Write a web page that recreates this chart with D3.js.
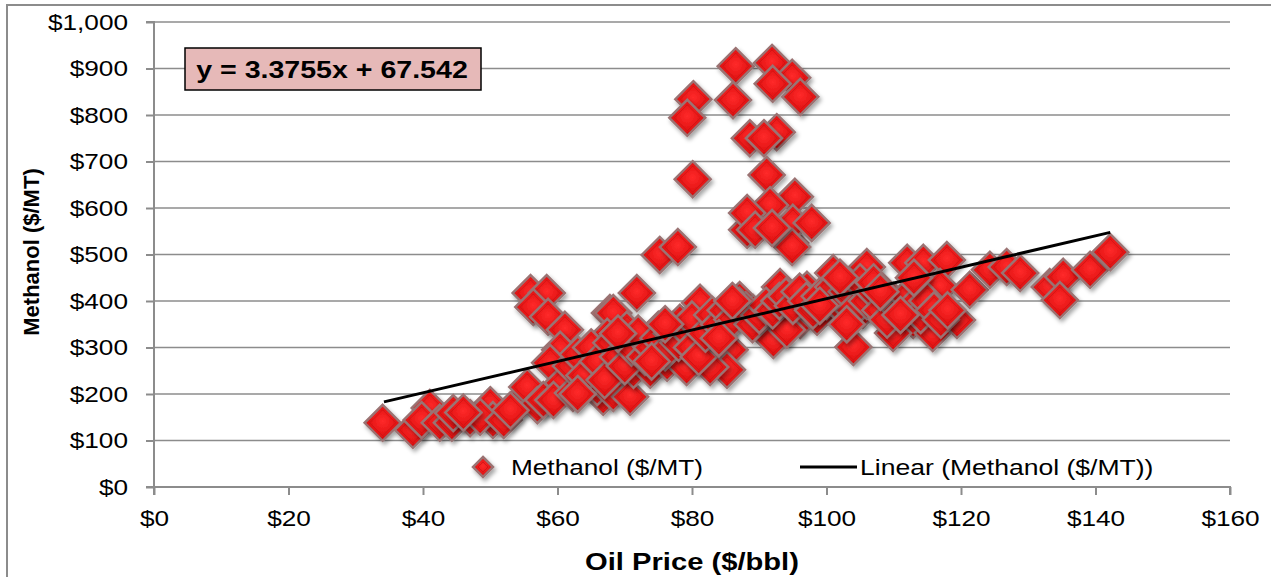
<!DOCTYPE html>
<html><head><meta charset="utf-8">
<script src="https://d3js.org/d3.v7.min.js"></script>
<style>body{margin:0;background:#fff}svg{display:block;font-family:"Liberation Sans",Arial,sans-serif}</style>
</head><body><svg id="c" width="1271" height="577"></svg>
<script>
const oilPrice = [34,38.5,41,39.8,42.5,44.3,44.5,47,50,50.4,48.5,52,54.7,55.5,57,57.9,56,58.4,56.4,58.6,61.1,60.4,58.9,60.8,59.4,62.3,64.4,67.4,66.8,65.9,67.8,
75.2,77.9,71.8,68.3,67.4,70.3,68.6,68.3,70.8,71.3,73.8,75,72.3,76.3,78.2,79.2,81.2,82.7,85.6,85.2,82.7,85.6,87.1,89.1,92.6,92.1,93.1,96.1,97.1,101,106,104,105.4,98.6,94.1,94.6,88.2,
86.5,91.9,94.9,92,96.1,80.2,79.3,86.1,88.6,92.6,90.7,80.1,91.1,95.3,91.6,88.2,89.4,95,97.8,94.9,91.9,
112,114.4,117.9,116.9,121.3,124.3,126.8,128.8,133.2,135.2,134.7,139.2,142.2,110.5,112.9,115.8,119.4,109.9,115.8,
62,63,64,65,66,67,68,69,70,71,72,73,74,75,76,77,78,79,80,80,81,82,83,84,85,86,87,88,89,90,91,92,93,94,95,96,97,98,99,100,101,102,103,104,105,106,107,108,109,110,111,112,113,114,115,116,117,118,
46,53,63,69,74,76,84,86,99,102,103,107,108,111,113];
const methanol = [138,123,170,144,138,138,159,148,176,144,151,144,187,215,176,187,417,417,387,366,338,295,267,224,187,202,273,252,194,215,374,
499,516,417,374,323,338,288,202,194,252,252,338,316,267,353,258,396,310,295,252,258,359,402,374,353,316,430,359,424,460,473,301,381,366,338,525,553,
905,912,880,867,839,834,794,832,750,763,750,662,671,624,606,589,553,568,568,516,557,
482,482,488,430,424,467,473,460,430,452,402,467,505,387,359,359,359,331,331,
260,285,240,300,270,230,310,280,260,300,330,280,300,320,290,330,310,340,300,360,280,330,370,350,380,360,390,380,350,370,390,380,400,410,390,420,400,380,410,400,430,390,420,380,440,400,420,380,360,400,380,410,390,370,400,380,360,380,
160,165,200,330,270,350,320,400,390,450,350,440,420,370,450];
const xTicks = [0,20,40,60,80,100,120,140,160];
const yTicks = [0,100,200,300,400,500,600,700,800,900,1000];
const slope = 3.3755, intercept = 67.542;
const trendRange = [34.2, 142.2];
const equationText = "y = 3.3755x + 67.542";
const seriesName = "Methanol ($/MT)";
const trendName = "Linear (Methanol ($/MT))";
const xTitle = "Oil Price ($/bbl)", yTitle = "Methanol ($/MT)";

const svg = d3.select("#c");
const L=154, R=1230, T=22, B=487;
const SX = 1.19; // horizontal stretch of text
const x = d3.scaleLinear().domain([0,160]).range([L,R]);
const y = d3.scaleLinear().domain([0,1000]).range([B,T]);
const fmt = d => "$" + d3.format(",")(d);
function stretch(sel){
 sel.each(function(){ const w=this.getComputedTextLength(); d3.select(this).attr("textLength",w*SX).attr("lengthAdjust","spacingAndGlyphs"); });
}

const defs = svg.append("defs");
const g1 = defs.append("radialGradient").attr("id","rg").attr("cx","50%").attr("cy","45%").attr("r","60%");
g1.append("stop").attr("offset","0%").attr("stop-color","#ff2a2a");
g1.append("stop").attr("offset","70%").attr("stop-color","#e01212");
g1.append("stop").attr("offset","100%").attr("stop-color","#b00c0c");
const f = defs.append("filter").attr("id","sh").attr("x","-50%").attr("y","-50%").attr("width","200%").attr("height","200%");
f.append("feDropShadow").attr("dx",2).attr("dy",3).attr("stdDeviation",2).attr("flood-color","#000").attr("flood-opacity",0.35);

// outer border
svg.append("rect").attr("x",7).attr("y",5).attr("width",1280).attr("height",600).attr("fill","none").attr("stroke","#8c8c8c").attr("stroke-width",2);

// gridlines
svg.append("g").selectAll("line").data(yTicks.filter(d=>d>0)).join("line")
 .attr("x1",L).attr("x2",R).attr("y1",d=>y(d)).attr("y2",d=>y(d))
 .attr("stroke","#8c8c8c").attr("stroke-width",1.5);

// axes
const ya = svg.append("g").attr("transform",`translate(${L},0)`)
 .call(d3.axisLeft(y).tickValues(yTicks).tickFormat(fmt).tickSize(8).tickPadding(18));
const xa = svg.append("g").attr("transform",`translate(0,${B})`)
 .call(d3.axisBottom(x).tickValues(xTicks).tickFormat(fmt).tickSize(8).tickPadding(15));
[ya,xa].forEach(a=>{
 a.attr("font-size",22).attr("font-family","Liberation Sans, Arial, sans-serif");
 a.select(".domain").attr("stroke","#8c8c8c").attr("stroke-width",2);
 a.selectAll(".tick line").attr("stroke","#8c8c8c").attr("stroke-width",2);
 a.selectAll("text").attr("fill","#000").call(stretch);
});
ya.select(".domain").attr("d",`M-8,${T}H0V${B}H-8`);
xa.select(".domain").attr("d",`M${L},8V0H${R}V8`);

// markers
const dia = (g, cx, cy, s) => {
 const h = s/2;
 g.append("path").attr("d",`M${cx},${cy-h}L${cx+h},${cy}L${cx},${cy+h}L${cx-h},${cy}Z`)
  .attr("fill","url(#rg)").attr("stroke","#9b7373").attr("stroke-width",2.5).attr("filter","url(#sh)");
 const k = h-5;
 if (k>3) g.append("path").attr("d",`M${cx},${cy-k}L${cx+k},${cy}L${cx},${cy+k}L${cx-k},${cy}Z`)
  .attr("fill","none").attr("stroke","#c51010").attr("stroke-width",1).attr("opacity",0.6);
};
const pts = svg.append("g");
oilPrice.forEach((v,i)=> dia(pts, x(v), y(methanol[i]), 36));

// trendline
svg.append("line").attr("x1",x(trendRange[0])).attr("y1",y(slope*trendRange[0]+intercept))
 .attr("x2",x(trendRange[1])).attr("y2",y(slope*trendRange[1]+intercept))
 .attr("stroke","#000").attr("stroke-width",3);

// equation box
svg.append("rect").attr("x",185).attr("y",48).attr("width",296).attr("height",42)
 .attr("fill","#e6b9b8").attr("stroke","#000").attr("stroke-width",1.5);
svg.append("text").attr("x",332).attr("y",78).attr("text-anchor","middle")
 .attr("font-size",24).attr("font-weight","bold").text(equationText).call(stretch);

// legend
dia(svg, 483, 467, 20);
svg.append("text").attr("x",511).attr("y",475).attr("font-size",22).text(seriesName).call(stretch);
svg.append("line").attr("x1",800).attr("x2",857).attr("y1",467).attr("y2",467).attr("stroke","#000").attr("stroke-width",3);
svg.append("text").attr("x",860).attr("y",475).attr("font-size",22.3).text(trendName).call(stretch);

// titles
svg.append("text").attr("x",(L+R)/2).attr("y",570).attr("text-anchor","middle").attr("font-size",24.5).attr("font-weight","bold").text(xTitle).call(stretch);
svg.append("text").attr("transform","translate(39,252) rotate(-90)").attr("text-anchor","middle").attr("font-size",22).attr("font-weight","bold").text(yTitle);
</script></body></html>
